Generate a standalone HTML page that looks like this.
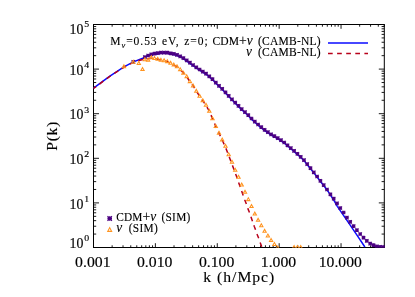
<!DOCTYPE html>
<html><head><meta charset="utf-8"><title>P(k)</title>
<style>html,body{margin:0;padding:0;background:#fff;}body{width:415px;height:297px;overflow:hidden;}svg{display:block;will-change:transform;}text{fill:#000;}.s{font-family:"Liberation Serif",serif;stroke:#000;stroke-width:0.12px;}.t{font-family:"Liberation Serif",serif;stroke:#000;stroke-width:0.15px;}</style>
</head><body>
<svg width="415" height="297" viewBox="0 0 415 297">
<rect x="0" y="0" width="415" height="297" fill="#fff"/>
<defs><clipPath id="c"><rect x="93.0" y="24.0" width="291.8" height="223.8"/></clipPath>
<g id="st" stroke="#4b0082" stroke-width="1.1" stroke-linecap="butt" fill="none"><path d="M-1.85 0H1.85M0 -1.85V1.85M-1.7 -1.7L1.7 1.7M-1.7 1.7L1.7 -1.7"/></g>
<g id="stL" stroke="#4b0082" stroke-width="1.3" stroke-linecap="butt" fill="none"><path d="M-2.3 0H2.3M0 -2.3V2.3M-2.2 -2.2L2.2 2.2M-2.2 2.2L2.2 -2.2"/></g>
<path id="tr" d="M0 -2.45L2.55 2.05H-2.55Z M0 -0.35L-0.75 1.0H0.75Z" fill="#ff9420" fill-rule="evenodd" stroke="none"/>
<path id="trL" d="M0 -2.9L2.85 2.5H-2.85Z M0 -0.6L-1.05 1.35H1.05Z" fill="#ff9420" fill-rule="evenodd" stroke="none"/>
</defs>
<path d="M93.5 247.50h5.5 M384.3 247.50h-5.5 M93.5 234.07h2.7 M384.3 234.07h-2.7 M93.5 226.22h2.7 M384.3 226.22h-2.7 M93.5 220.65h2.7 M384.3 220.65h-2.7 M93.5 216.33h2.7 M384.3 216.33h-2.7 M93.5 212.79h2.7 M384.3 212.79h-2.7 M93.5 209.81h2.7 M384.3 209.81h-2.7 M93.5 207.22h2.7 M384.3 207.22h-2.7 M93.5 204.94h2.7 M384.3 204.94h-2.7 M93.5 202.90h5.5 M384.3 202.90h-5.5 M93.5 189.47h2.7 M384.3 189.47h-2.7 M93.5 181.62h2.7 M384.3 181.62h-2.7 M93.5 176.05h2.7 M384.3 176.05h-2.7 M93.5 171.73h2.7 M384.3 171.73h-2.7 M93.5 168.19h2.7 M384.3 168.19h-2.7 M93.5 165.21h2.7 M384.3 165.21h-2.7 M93.5 162.62h2.7 M384.3 162.62h-2.7 M93.5 160.34h2.7 M384.3 160.34h-2.7 M93.5 158.30h5.5 M384.3 158.30h-5.5 M93.5 144.87h2.7 M384.3 144.87h-2.7 M93.5 137.02h2.7 M384.3 137.02h-2.7 M93.5 131.45h2.7 M384.3 131.45h-2.7 M93.5 127.13h2.7 M384.3 127.13h-2.7 M93.5 123.59h2.7 M384.3 123.59h-2.7 M93.5 120.61h2.7 M384.3 120.61h-2.7 M93.5 118.02h2.7 M384.3 118.02h-2.7 M93.5 115.74h2.7 M384.3 115.74h-2.7 M93.5 113.70h5.5 M384.3 113.70h-5.5 M93.5 100.27h2.7 M384.3 100.27h-2.7 M93.5 92.42h2.7 M384.3 92.42h-2.7 M93.5 86.85h2.7 M384.3 86.85h-2.7 M93.5 82.53h2.7 M384.3 82.53h-2.7 M93.5 78.99h2.7 M384.3 78.99h-2.7 M93.5 76.01h2.7 M384.3 76.01h-2.7 M93.5 73.42h2.7 M384.3 73.42h-2.7 M93.5 71.14h2.7 M384.3 71.14h-2.7 M93.5 69.10h5.5 M384.3 69.10h-5.5 M93.5 55.67h2.7 M384.3 55.67h-2.7 M93.5 47.82h2.7 M384.3 47.82h-2.7 M93.5 42.25h2.7 M384.3 42.25h-2.7 M93.5 37.93h2.7 M384.3 37.93h-2.7 M93.5 34.39h2.7 M384.3 34.39h-2.7 M93.5 31.41h2.7 M384.3 31.41h-2.7 M93.5 28.82h2.7 M384.3 28.82h-2.7 M93.5 26.54h2.7 M384.3 26.54h-2.7 M93.5 24.50h5.5 M384.3 24.50h-5.5 M93.50 247.5v-4.3 M93.50 24.5v4.3 M112.13 247.5v-2.2 M112.13 24.5v2.2 M123.03 247.5v-2.2 M123.03 24.5v2.2 M130.76 247.5v-2.2 M130.76 24.5v2.2 M136.76 247.5v-2.2 M136.76 24.5v2.2 M141.66 247.5v-2.2 M141.66 24.5v2.2 M145.80 247.5v-2.2 M145.80 24.5v2.2 M149.39 247.5v-2.2 M149.39 24.5v2.2 M152.55 247.5v-2.2 M152.55 24.5v2.2 M155.39 247.5v-4.3 M155.39 24.5v4.3 M174.02 247.5v-2.2 M174.02 24.5v2.2 M184.91 247.5v-2.2 M184.91 24.5v2.2 M192.64 247.5v-2.2 M192.64 24.5v2.2 M198.64 247.5v-2.2 M198.64 24.5v2.2 M203.54 247.5v-2.2 M203.54 24.5v2.2 M207.69 247.5v-2.2 M207.69 24.5v2.2 M211.27 247.5v-2.2 M211.27 24.5v2.2 M214.44 247.5v-2.2 M214.44 24.5v2.2 M217.27 247.5v-4.3 M217.27 24.5v4.3 M235.90 247.5v-2.2 M235.90 24.5v2.2 M246.80 247.5v-2.2 M246.80 24.5v2.2 M254.53 247.5v-2.2 M254.53 24.5v2.2 M260.53 247.5v-2.2 M260.53 24.5v2.2 M265.43 247.5v-2.2 M265.43 24.5v2.2 M269.57 247.5v-2.2 M269.57 24.5v2.2 M273.16 247.5v-2.2 M273.16 24.5v2.2 M276.33 247.5v-2.2 M276.33 24.5v2.2 M279.16 247.5v-4.3 M279.16 24.5v4.3 M297.79 247.5v-2.2 M297.79 24.5v2.2 M308.68 247.5v-2.2 M308.68 24.5v2.2 M316.42 247.5v-2.2 M316.42 24.5v2.2 M322.41 247.5v-2.2 M322.41 24.5v2.2 M327.31 247.5v-2.2 M327.31 24.5v2.2 M331.46 247.5v-2.2 M331.46 24.5v2.2 M335.05 247.5v-2.2 M335.05 24.5v2.2 M338.21 247.5v-2.2 M338.21 24.5v2.2 M341.04 247.5v-4.3 M341.04 24.5v4.3 M359.67 247.5v-2.2 M359.67 24.5v2.2 M370.57 247.5v-2.2 M370.57 24.5v2.2 M378.30 247.5v-2.2 M378.30 24.5v2.2 M384.30 247.5v-2.2 M384.30 24.5v2.2" stroke="#000" stroke-width="0.9" fill="none"/>
<rect x="93.5" y="24.5" width="290.8" height="223.0" fill="none" stroke="#000" stroke-width="1.0"/>
<g clip-path="url(#c)">
<path d="M93.5 88.2 L109.5 76.3 L124.0 66.9 L133.4 61.9 L143.4 58.0 L148.5 55.5 L154.8 54.1 L161.0 53.2 L167.3 53.3 L173.6 54.5 L176.0 55.1 L182.3 57.9 L188.5 62.3 L194.8 66.8 L201.0 71.1 L207.3 75.1 L213.6 80.8 L216.0 83.5 L222.3 89.5 L228.5 96.3 L234.8 102.8 L241.1 109.1 L247.3 114.8 L252.5 120.1 L258.8 125.8 L265.1 130.8 L271.3 135.1 L277.6 138.6 L283.9 142.8 L288.5 146.8 L294.8 152.1 L301.1 157.8 L304.8 161.6 L308.5 166.3 L314.8 174.1 L321.1 182.3 L324.8 187.0 L327.9 191.2 L331.0 195.9 L334.5 201.3 L337.3 206.3 L348.5 222.6 L357.3 235.7 L364.9 247.0" fill="none" stroke="#0a0aff" stroke-width="1.5" stroke-linejoin="round"/>
<path d="M93.5 88.5 L109.5 76.6 L124.0 67.2 L133.4 62.4 L140.0 60.2 L146.0 58.8 L151.0 58.3 L155.0 58.5 L158.0 59.2 L161.0 60.0 L164.2 60.8 L167.3 61.8 L170.5 63.2 L173.6 64.8 L176.7 66.6 L179.9 69.3 L183.2 72.8 L186.5 76.3 L189.5 81.0 L192.9 85.4 L196.0 90.7 L199.2 95.7 L202.3 100.0 L206.1 105.5 L209.2 111.0 L212.3 118.1 L215.4 125.4 L218.9 132.9 L222.3 140.2 L225.4 147.0 L228.8 155.8 L232.2 164.8 L235.3 173.1 L236.5 176.3 L238.2 181.3 L239.7 185.6 L241.5 190.7 L243.2 195.5 L244.7 199.7 L246.5 204.4 L247.8 208.4 L249.7 213.2 L251.2 217.5 L252.8 222.1 L254.2 226.3 L255.9 230.7 L257.4 235.0 L259.2 239.6 L260.7 243.9 L261.8 247.0" fill="none" stroke="#b8001a" stroke-width="1.5" stroke-dasharray="4.7 4.4" stroke-dashoffset="1.6" stroke-linejoin="round"/>
<use href="#st" x="133.3" y="61.8"/>
<use href="#st" x="144.9" y="57.1"/>
<use href="#st" x="148.1" y="55.5"/>
<use href="#st" x="151.3" y="54.3"/>
<use href="#st" x="154.5" y="53.6"/>
<use href="#st" x="157.7" y="53.1"/>
<use href="#st" x="160.9" y="52.6"/>
<use href="#st" x="164.1" y="52.6"/>
<use href="#st" x="167.3" y="52.7"/>
<use href="#st" x="170.6" y="53.3"/>
<use href="#st" x="173.8" y="53.9"/>
<use href="#st" x="177.0" y="54.9"/>
<use href="#st" x="180.2" y="56.4"/>
<use href="#st" x="183.4" y="58.1"/>
<use href="#st" x="186.7" y="60.4"/>
<use href="#st" x="189.9" y="62.7"/>
<use href="#st" x="193.1" y="65.0"/>
<use href="#st" x="196.3" y="67.3"/>
<use href="#st" x="199.6" y="69.5"/>
<use href="#st" x="202.8" y="71.6"/>
<use href="#st" x="206.0" y="73.7"/>
<use href="#st" x="209.3" y="76.3"/>
<use href="#st" x="212.5" y="79.2"/>
<use href="#st" x="215.8" y="82.6"/>
<use href="#st" x="219.0" y="85.8"/>
<use href="#st" x="222.2" y="88.8"/>
<use href="#st" x="225.5" y="92.4"/>
<use href="#st" x="228.7" y="95.9"/>
<use href="#st" x="232.0" y="99.3"/>
<use href="#st" x="235.2" y="102.6"/>
<use href="#st" x="238.5" y="105.9"/>
<use href="#st" x="241.7" y="109.1"/>
<use href="#st" x="245.0" y="112.1"/>
<use href="#st" x="248.3" y="115.2"/>
<use href="#st" x="251.5" y="118.5"/>
<use href="#st" x="254.8" y="121.6"/>
<use href="#st" x="258.1" y="124.5"/>
<use href="#st" x="261.3" y="127.2"/>
<use href="#st" x="264.6" y="129.8"/>
<use href="#st" x="267.9" y="132.1"/>
<use href="#st" x="271.1" y="134.4"/>
<use href="#st" x="274.4" y="136.2"/>
<use href="#st" x="277.7" y="138.1"/>
<use href="#st" x="281.0" y="140.2"/>
<use href="#st" x="284.2" y="142.5"/>
<use href="#st" x="287.5" y="145.3"/>
<use href="#st" x="290.8" y="148.1"/>
<use href="#st" x="294.1" y="150.9"/>
<use href="#st" x="297.4" y="153.8"/>
<use href="#st" x="300.7" y="156.8"/>
<use href="#st" x="304.0" y="160.1"/>
<use href="#st" x="307.2" y="164.1"/>
<use href="#st" x="310.5" y="168.2"/>
<use href="#st" x="313.8" y="172.3"/>
<use href="#st" x="317.1" y="176.5"/>
<use href="#st" x="320.4" y="180.8"/>
<use href="#st" x="323.7" y="185.1"/>
<use href="#st" x="327.0" y="189.5"/>
<use href="#st" x="330.4" y="194.3"/>
<use href="#st" x="333.7" y="198.7"/>
<use href="#st" x="337.0" y="203.4"/>
<use href="#st" x="340.3" y="208.0"/>
<use href="#st" x="343.6" y="212.5"/>
<use href="#st" x="346.9" y="217.6"/>
<use href="#st" x="350.2" y="221.9"/>
<use href="#st" x="353.6" y="226.1"/>
<use href="#st" x="356.9" y="230.2"/>
<use href="#st" x="360.2" y="234.0"/>
<use href="#st" x="363.5" y="237.7"/>
<use href="#st" x="366.8" y="240.9"/>
<use href="#st" x="370.2" y="243.6"/>
<use href="#st" x="373.5" y="245.2"/>
<use href="#st" x="376.8" y="246.4"/>
<use href="#st" x="380.2" y="246.9"/>
<use href="#st" x="383.5" y="247.2"/>
<use href="#tr" x="123.9" y="66.3"/>
<use href="#tr" x="133.3" y="61.8"/>
<use href="#tr" x="138.8" y="62.9"/>
<use href="#tr" x="142.5" y="69.0"/>
<use href="#tr" x="144.9" y="59.2"/>
<use href="#tr" x="148.1" y="59.6"/>
<use href="#tr" x="151.3" y="57.3"/>
<use href="#tr" x="154.5" y="58.0"/>
<use href="#tr" x="157.7" y="58.7"/>
<use href="#tr" x="160.9" y="59.6"/>
<use href="#tr" x="164.1" y="60.3"/>
<use href="#tr" x="167.3" y="61.1"/>
<use href="#tr" x="170.6" y="62.8"/>
<use href="#tr" x="173.8" y="64.5"/>
<use href="#tr" x="177.0" y="66.3"/>
<use href="#tr" x="180.2" y="69.1"/>
<use href="#tr" x="183.4" y="72.6"/>
<use href="#tr" x="186.7" y="76.1"/>
<use href="#tr" x="189.9" y="81.1"/>
<use href="#tr" x="193.1" y="85.4"/>
<use href="#tr" x="196.3" y="90.8"/>
<use href="#tr" x="199.6" y="95.8"/>
<use href="#tr" x="202.8" y="100.3"/>
<use href="#tr" x="206.0" y="104.7"/>
<use href="#tr" x="209.3" y="110.8"/>
<use href="#tr" x="212.5" y="118.2"/>
<use href="#tr" x="215.8" y="125.9"/>
<use href="#tr" x="219.0" y="132.7"/>
<use href="#tr" x="222.2" y="139.5"/>
<use href="#tr" x="225.5" y="145.8"/>
<use href="#tr" x="228.7" y="154.2"/>
<use href="#tr" x="232.0" y="161.7"/>
<use href="#tr" x="235.2" y="169.8"/>
<use href="#tr" x="238.5" y="176.7"/>
<use href="#tr" x="241.7" y="184.5"/>
<use href="#tr" x="245.0" y="191.8"/>
<use href="#tr" x="248.3" y="199.1"/>
<use href="#tr" x="251.5" y="206.0"/>
<use href="#tr" x="254.8" y="213.5"/>
<use href="#tr" x="258.1" y="219.8"/>
<use href="#tr" x="261.3" y="225.2"/>
<use href="#tr" x="264.6" y="230.8"/>
<use href="#tr" x="267.9" y="235.4"/>
<use href="#tr" x="271.1" y="240.0"/>
<use href="#tr" x="274.4" y="243.9"/>
<use href="#tr" x="277.7" y="247.4"/>
<use href="#tr" x="294.1" y="247.0"/>
<use href="#tr" x="297.4" y="247.0"/>
<use href="#tr" x="300.7" y="247.0"/>
</g>
<path d="M328 43H368" stroke="#0a0aff" stroke-width="1.5" fill="none"/>
<path d="M328 53.4H368" stroke="#b8001a" stroke-width="1.5" stroke-dasharray="4.7 4.4" fill="none"/>
<use href="#stL" x="109.7" y="218.5"/>
<use href="#trL" x="109.7" y="229.4"/>
<text class="s" transform="translate(110.3 45.2) scale(0.980 1)" font-size="11.8" textLength="47.3" lengthAdjust="spacing">M<tspan font-size="8.6" dy="2.3" font-style="italic">ν</tspan><tspan dy="-2.3">=0.53</tspan></text>
<text class="s" transform="translate(162.1 45.2) scale(0.980 1)" font-size="11.8" textLength="16.9" lengthAdjust="spacing">eV,</text>
<text class="s" transform="translate(184.2 45.2) scale(0.980 1)" font-size="11.8" textLength="23.9" lengthAdjust="spacing">z=0;</text>
<text class="s" transform="translate(212.6 45.2) scale(0.980 1)" font-size="11.8" textLength="40.8" lengthAdjust="spacing">CDM<tspan font-size="14">+</tspan><tspan font-style="italic" font-size="13.6">ν</tspan></text>
<text class="s" transform="translate(258.0 45.2) scale(0.980 1)" font-size="11.8" textLength="63.9" lengthAdjust="spacing">(CAMB<tspan dy="-0.7">-</tspan><tspan dy="0.7">NL)</tspan></text>
<text class="s" transform="translate(246.0 56.3) scale(0.980 1)" font-size="11.8" textLength="7.1" lengthAdjust="spacing"><tspan font-style="italic" font-size="13.6">ν</tspan></text>
<text class="s" transform="translate(258.0 56.3) scale(0.980 1)" font-size="11.8" textLength="63.9" lengthAdjust="spacing">(CAMB<tspan dy="-0.7">-</tspan><tspan dy="0.7">NL)</tspan></text>
<text class="s" transform="translate(116.3 221.4) scale(0.980 1)" font-size="11.6" textLength="40.8" lengthAdjust="spacing">CDM<tspan font-size="14">+</tspan><tspan font-style="italic" font-size="13.6">ν</tspan></text>
<text class="s" transform="translate(161.4 221.4) scale(0.980 1)" font-size="11.6" textLength="29.5" lengthAdjust="spacing">(SIM)</text>
<text class="s" transform="translate(116.3 232.0) scale(0.980 1)" font-size="11.6" textLength="7.1" lengthAdjust="spacing"><tspan font-style="italic" font-size="13.6">ν</tspan></text>
<text class="s" transform="translate(128.8 232.0) scale(0.980 1)" font-size="11.6" textLength="29.5" lengthAdjust="spacing">(SIM)</text>
<text class="s" transform="translate(203.3 282.1) scale(1.120 1)" font-size="14.0" textLength="63.4" lengthAdjust="spacing">k (h/Mpc)</text>
<text class="s" transform="translate(57.1 150.7) rotate(-90) scale(1.120 1)" font-size="14.0" textLength="25.9" lengthAdjust="spacing">P(k)</text>
<text class="t" x="75.1" y="266.9" font-size="13.7" textLength="35.4" lengthAdjust="spacingAndGlyphs">0.001</text>
<text class="t" x="137.0" y="266.9" font-size="13.7" textLength="35.4" lengthAdjust="spacingAndGlyphs">0.010</text>
<text class="t" x="198.9" y="266.9" font-size="13.7" textLength="35.4" lengthAdjust="spacingAndGlyphs">0.100</text>
<text class="t" x="260.8" y="266.9" font-size="13.7" textLength="35.4" lengthAdjust="spacingAndGlyphs">1.000</text>
<text class="t" x="318.8" y="266.9" font-size="13.7" textLength="43.0" lengthAdjust="spacingAndGlyphs">10.000</text>
<text class="t" x="69.6" y="248.0" font-size="13.7" textLength="13.8" lengthAdjust="spacingAndGlyphs">10</text>
<text class="t" x="84.3" y="241.3" font-size="8.6" textLength="4.9" lengthAdjust="spacingAndGlyphs">0</text>
<text class="t" x="69.6" y="208.5" font-size="13.7" textLength="13.8" lengthAdjust="spacingAndGlyphs">10</text>
<text class="t" x="84.3" y="201.8" font-size="8.6" textLength="4.9" lengthAdjust="spacingAndGlyphs">1</text>
<text class="t" x="69.6" y="163.9" font-size="13.7" textLength="13.8" lengthAdjust="spacingAndGlyphs">10</text>
<text class="t" x="84.3" y="157.2" font-size="8.6" textLength="4.9" lengthAdjust="spacingAndGlyphs">2</text>
<text class="t" x="69.6" y="119.3" font-size="13.7" textLength="13.8" lengthAdjust="spacingAndGlyphs">10</text>
<text class="t" x="84.3" y="112.6" font-size="8.6" textLength="4.9" lengthAdjust="spacingAndGlyphs">3</text>
<text class="t" x="69.6" y="74.7" font-size="13.7" textLength="13.8" lengthAdjust="spacingAndGlyphs">10</text>
<text class="t" x="84.3" y="68.0" font-size="8.6" textLength="4.9" lengthAdjust="spacingAndGlyphs">4</text>
<text class="t" x="69.6" y="34.0" font-size="13.7" textLength="13.8" lengthAdjust="spacingAndGlyphs">10</text>
<text class="t" x="84.3" y="27.3" font-size="8.6" textLength="4.9" lengthAdjust="spacingAndGlyphs">5</text>
</svg></body></html>
